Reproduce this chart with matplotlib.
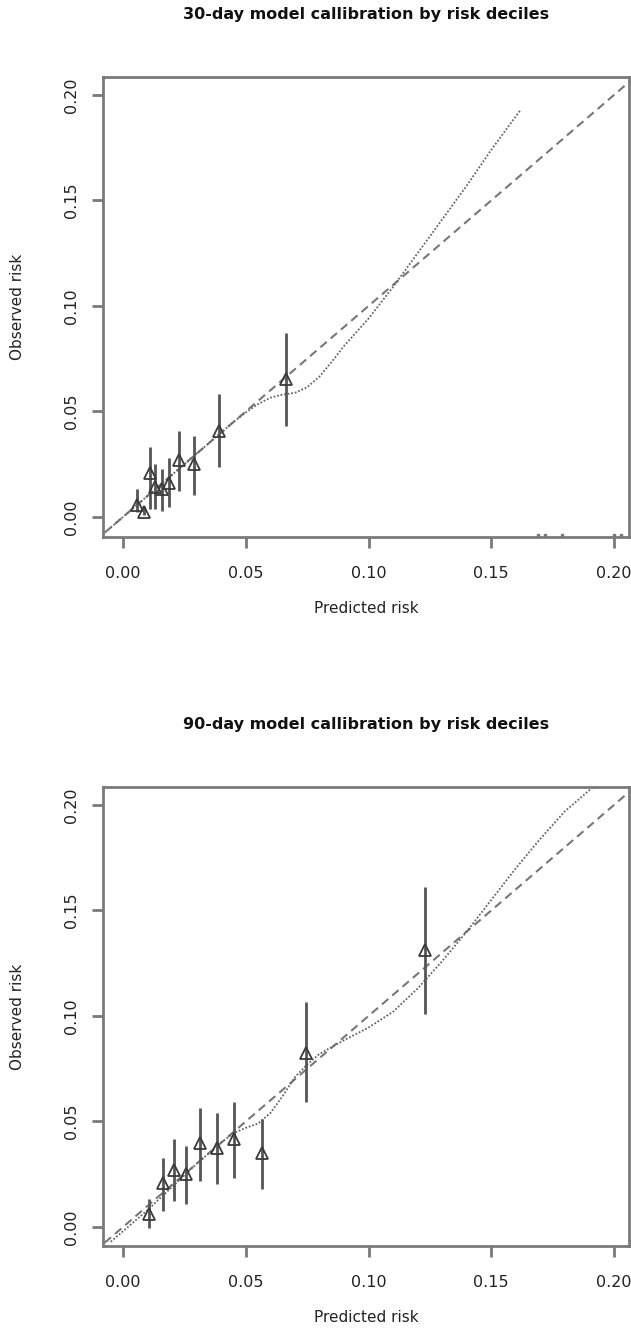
import matplotlib
matplotlib.use("Agg")
import matplotlib.pyplot as plt
import numpy as np

plt.rcParams['font.family'] = ['DejaVu Sans']

# ---------------- data ----------------
# 30-day model
pred30 = [0.0057, 0.0084, 0.0109, 0.0132, 0.0157, 0.0187, 0.0230, 0.0289, 0.0391, 0.0663]
obs30 = [0.0058, 0.0024, 0.0209, 0.0142, 0.0134, 0.0162, 0.0272, 0.0252, 0.0409, 0.0654]
lo30 = [0.0024, 0.0010, 0.0039, 0.0039, 0.0027, 0.0047, 0.0121, 0.0105, 0.0236, 0.0430]
hi30 = [0.0134, 0.0050, 0.0330, 0.0252, 0.0225, 0.0280, 0.0409, 0.0382, 0.0582, 0.0872]
smooth30_x = [-0.005, 0.0, 0.01, 0.02, 0.03, 0.04, 0.045, 0.05, 0.055, 0.06, 0.065,
              0.07, 0.075, 0.08, 0.085, 0.09, 0.10, 0.11, 0.12, 0.13, 0.14, 0.15, 0.162]
smooth30_y = [-0.005, 0.0, 0.010, 0.020, 0.030, 0.040, 0.045, 0.0495, 0.0535, 0.0565, 0.058,
              0.0588, 0.0615, 0.0665, 0.0735, 0.081, 0.094, 0.109, 0.125, 0.141, 0.157, 0.174, 0.193]
rug30 = [0.169, 0.172, 0.179, 0.200, 0.203]

# 90-day model
pred90 = [0.0107, 0.0164, 0.0209, 0.0258, 0.0313, 0.0382, 0.0452, 0.0567, 0.0744, 0.1232]
obs90 = [0.0060, 0.0210, 0.0270, 0.0253, 0.0397, 0.0373, 0.0415, 0.0352, 0.0823, 0.1313]
lo90 = [-0.0003, 0.0076, 0.0123, 0.0107, 0.0218, 0.0202, 0.0234, 0.0182, 0.0592, 0.1009]
hi90 = [0.0131, 0.0329, 0.0415, 0.0384, 0.0564, 0.0540, 0.0590, 0.0510, 0.1066, 0.1613]
smooth90_x = [-0.005, 0.0, 0.01, 0.02, 0.03, 0.04, 0.045, 0.05, 0.055, 0.06, 0.065, 0.07,
              0.075, 0.08, 0.09, 0.10, 0.11, 0.12, 0.13, 0.14, 0.15, 0.16, 0.17, 0.18, 0.19, 0.196]
smooth90_y = [-0.007, -0.002, 0.008, 0.019, 0.030, 0.040, 0.0445, 0.047, 0.049, 0.054, 0.062, 0.071,
              0.077, 0.082, 0.0885, 0.0945, 0.102, 0.113, 0.126, 0.140, 0.155, 0.170, 0.184, 0.197, 0.207, 0.2125]

ideal = [-0.02, 0.23]

titles = ["30-day model callibration by risk deciles",
          "90-day model callibration by risk deciles"]
ticks = [0.00, 0.05, 0.10, 0.15, 0.20]
ticklabels = ["0.00", "0.05", "0.10", "0.15", "0.20"]

# ---------------- figure ----------------
fig = plt.figure(figsize=(6.31, 13.32), dpi=100)
axpos = [[103/631, 1-537/1332, 526/631, 460/1332],
         [103/631, 1-1246/1332, 526/631, 459/1332]]
ylims = [(-0.0095, 0.2085), (-0.009, 0.2085)]
title_y = [1-15/1332, 1-725/1332]

spine_c = '#7a7a7a'
panels = [(pred30, obs30, lo30, hi30, smooth30_x, smooth30_y),
          (pred90, obs90, lo90, hi90, smooth90_x, smooth90_y)]

for i, (px, py, lo, hi, sx, sy) in enumerate(panels):
    ax = fig.add_axes(axpos[i])
    ax.set_xlim(-0.00815, 0.2061)
    ax.set_ylim(*ylims[i])
    # ideal line
    ax.plot(ideal, ideal, color='#777777', lw=1.5, ls=(0, (4, 2.5)), zorder=2)
    # smooth calibration curve
    ax.plot(sx, sy, color='#666666', lw=1.3, ls=(0, (1, 1)), zorder=2)
    # error bars
    ax.vlines(px, lo, hi, color='#555555', lw=2.0, zorder=3)
    # points
    ax.plot(px, py, ls='none', marker='^', ms=8, mfc='none', mec='#3a3a3a', mew=1.3, zorder=4)
    if i == 0:
        ax.plot(rug30, [ylims[0][0] + 0.0008] * len(rug30), ls='none', marker='s', ms=1.5,
                color='#777777', clip_on=False, zorder=5)
    for s in ax.spines.values():
        s.set_color(spine_c)
        s.set_linewidth(2.0)
    ax.set_xticks(ticks)
    ax.set_xticklabels(ticklabels)
    ax.set_yticks(ticks)
    ax.set_yticklabels(ticklabels, rotation=90, va='center')
    ax.tick_params(axis='both', direction='out', length=8, width=2.0, color=spine_c,
                   labelsize=11.5, labelcolor='#222222')
    ax.tick_params(axis='x', pad=13)
    ax.tick_params(axis='y', pad=9)
    ax.set_xlabel("Predicted risk", fontsize=11, color='#222222', labelpad=14)
    ax.set_ylabel("Observed risk", fontsize=11, color='#222222', labelpad=28)
    fig.text(axpos[i][0] + axpos[i][2] / 2, title_y[i], titles[i], ha='center', va='center',
             fontsize=11.5, fontweight='bold', color='#111111')

fig.savefig("out.png", dpi=100, facecolor='white')
